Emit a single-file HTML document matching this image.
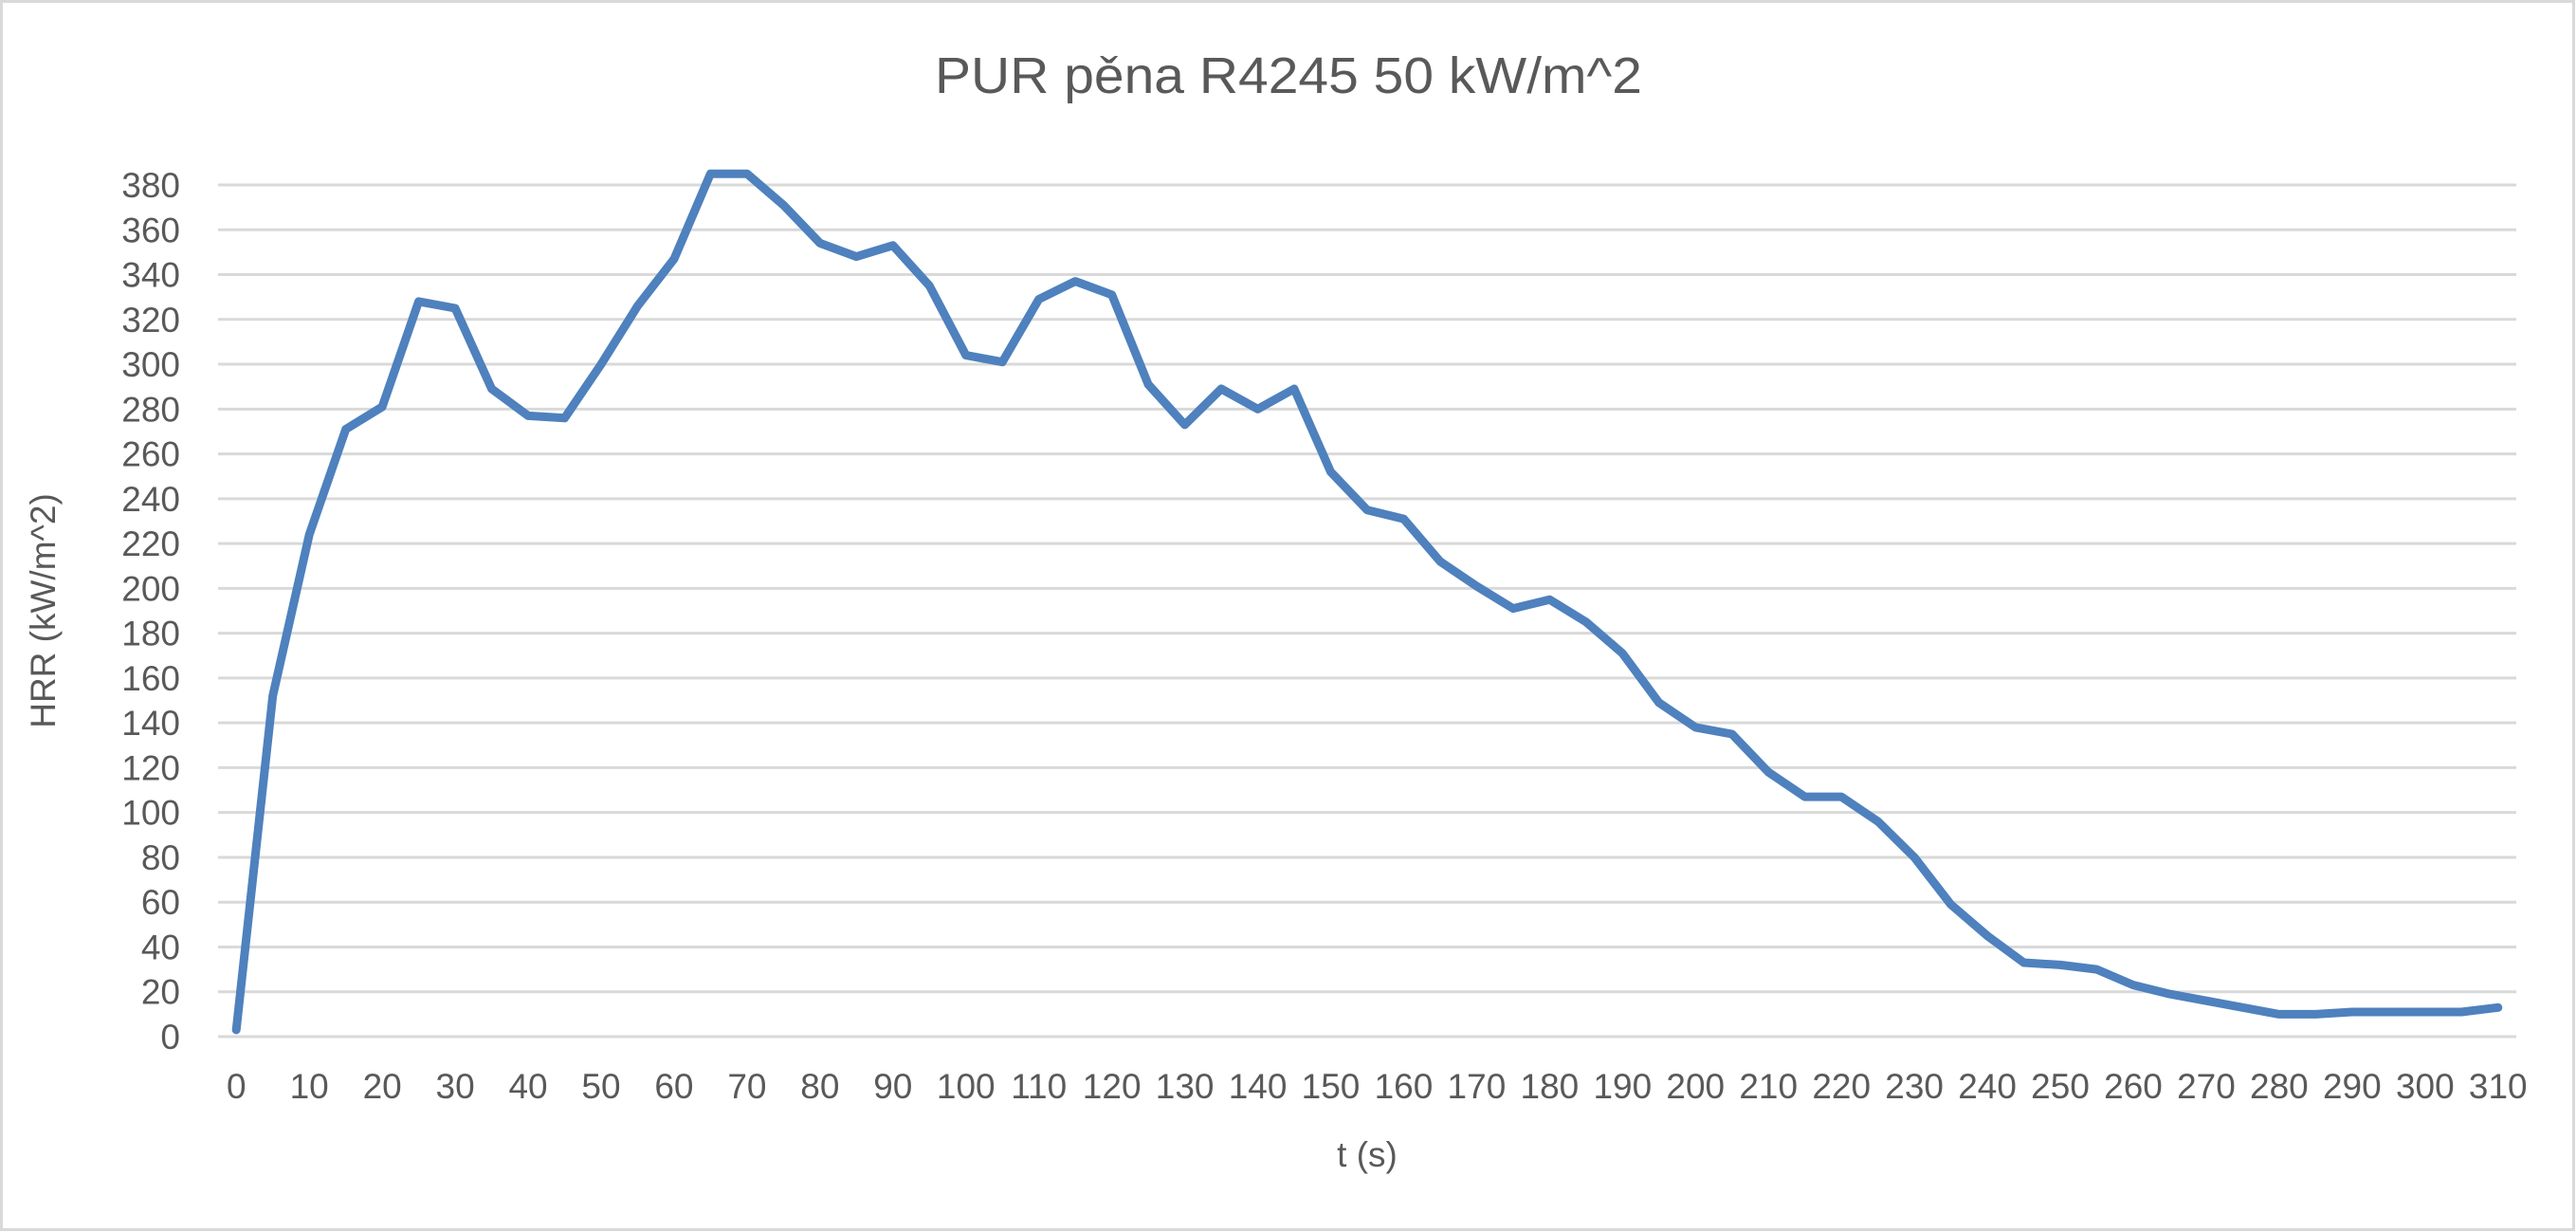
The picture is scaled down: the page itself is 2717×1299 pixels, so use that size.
<!DOCTYPE html>
<html><head><meta charset="utf-8"><style>
html,body{margin:0;padding:0;background:#fff;}
svg{display:block;font-family:"Liberation Sans",sans-serif;}
</style></head><body>
<svg id="s" width="2717" height="1299" xmlns="http://www.w3.org/2000/svg">
<rect x="1.5" y="1.5" width="2713" height="1295" fill="#fff" stroke="#d9d9d9" stroke-width="3"/>
<text x="1359" y="98" font-size="54" fill="#595959" text-anchor="middle" textLength="746" lengthAdjust="spacingAndGlyphs">PUR pěna R4245 50 kW/m^2</text>
<text transform="translate(58,644) rotate(-90)" font-size="37" fill="#595959" text-anchor="middle">HRR (kW/m^2)</text>
<text x="1442" y="1230" font-size="37" fill="#595959" text-anchor="middle">t (s)</text>
<g id="g"></g>
</svg>
<script>
var g=document.getElementById('g'),ns="http://www.w3.org/2000/svg",h="";
var L=230,R=2654,Y0=1093,Y380=195,ys=(Y0-Y380)/380;
for(var v=0;v<=380;v+=20){var y=Y0-v*ys;
h+='<line x1="'+L+'" x2="'+R+'" y1="'+y+'" y2="'+y+'" stroke="#d9d9d9" stroke-width="3"/>';
h+='<text x="190" y="'+(y+13)+'" font-size="37" fill="#595959" text-anchor="end">'+v+'</text>';}
var d=[3,152,224,271,281,328,325,289,277,276,300,326,347,385,385,371,354,348,353,335,304,301,329,337,331,291,273,289,280,289,252,235,231,212,201,191,195,185,171,149,138,135,118,107,107,96,80,59,45,33,32,30,23,19,16,13,10,10,11,11,11,11,13];
var sp=(R-L)/63,pts=[];
for(var i=0;i<63;i++){var x=L+sp*(i+0.5);pts.push(x.toFixed(1)+','+(Y0-d[i]*ys).toFixed(1));
if(i%2==0)h+='<text x="'+x+'" y="1158" font-size="37" fill="#595959" text-anchor="middle">'+(i*5)+'</text>';}
h+='<polyline points="'+pts.join(' ')+'" fill="none" stroke="#4e81bd" stroke-width="9" stroke-linejoin="round" stroke-linecap="round"/>';
g.innerHTML=h;
</script>
</body></html>
